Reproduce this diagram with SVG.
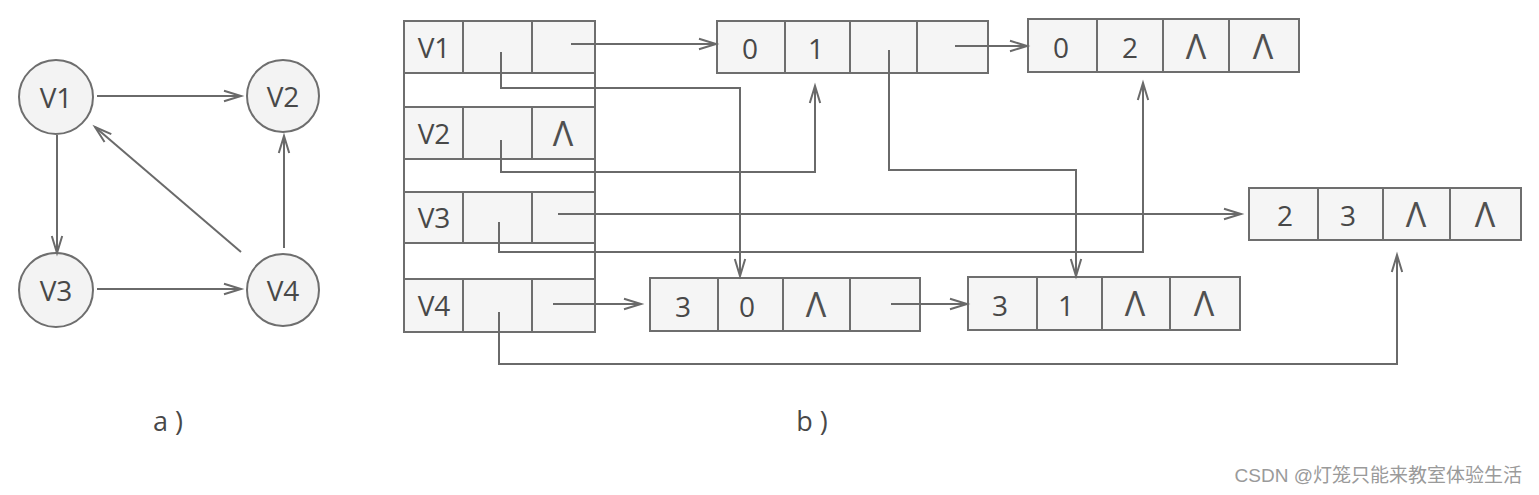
<svg xmlns="http://www.w3.org/2000/svg" width="1539" height="495" viewBox="0 0 1539 495">
<style>
.c{fill:#f3f3f3;stroke:#6e6e6e;stroke-width:2}
.cell{fill:#f5f5f5;stroke:#6e6e6e;stroke-width:2}
.t{font-family:"Open Sans","Noto Sans",sans-serif;font-size:28px;fill:#484848;text-anchor:middle;dominant-baseline:central}
.nil{font-family:"Open Sans","Noto Sans",sans-serif;font-size:34px;font-weight:400;fill:#505050;text-anchor:middle;dominant-baseline:central}
.e{fill:none;stroke:#6a6a6a;stroke-width:2;marker-end:url(#a)}
.lbl{font-family:"Open Sans","Noto Sans",sans-serif;font-size:27px;fill:#484848;text-anchor:middle}
</style>
<defs>
<marker id="a" markerUnits="userSpaceOnUse" markerWidth="20" markerHeight="14" refX="17" refY="7" orient="auto" overflow="visible">
<path d="M0,1.8 L17,7 L0,12.2" fill="none" stroke="#6a6a6a" stroke-width="2"/>
</marker>
</defs>
<rect width="1539" height="495" fill="#fff"/>

<!-- graph a -->
<g id="gV1"><circle class="c" cx="56" cy="97" r="37"/><text class="t" x="56" y="97">V1</text></g>
<g id="gV2"><circle class="c" cx="283" cy="96" r="36"/><text class="t" x="283" y="96">V2</text></g>
<g id="gV3"><circle class="c" cx="56" cy="290" r="37"/><text class="t" x="56" y="290">V3</text></g>
<g id="gV4"><circle class="c" cx="283" cy="290" r="36"/><text class="t" x="283" y="290">V4</text></g>
<g id="graph-edges">
<path class="e" d="M97,96 L241,96"/>
<path class="e" d="M57,135 L57,253"/>
<path class="e" d="M97,289 L241,289"/>
<path class="e" d="M284,248 L284,136"/>
<path class="e" d="M241,252 L95,127"/>
</g>
<text class="lbl" x="168" y="431">a )</text>
<text class="lbl" x="812" y="431">b )</text>

<!-- head table -->
<g id="table">
<rect x="404" y="21" width="191" height="311" fill="#fff" stroke="#6e6e6e" stroke-width="2"/>
<g id="hV1"><rect class="cell" x="404" y="21" width="59" height="52"/><rect class="cell" x="463" y="21" width="69" height="52"/><rect class="cell" x="532" y="21" width="63" height="52"/><text class="t" x="434" y="47">V1</text></g>
<g id="hV2"><rect class="cell" x="404" y="107" width="59" height="52"/><rect class="cell" x="463" y="107" width="69" height="52"/><rect class="cell" x="532" y="107" width="63" height="52"/><text class="t" x="434" y="133">V2</text><text class="nil" x="563" y="133">Λ</text></g>
<g id="hV3"><rect class="cell" x="404" y="192" width="59" height="51"/><rect class="cell" x="463" y="192" width="69" height="51"/><rect class="cell" x="532" y="192" width="63" height="51"/><text class="t" x="434" y="217">V3</text></g>
<g id="hV4"><rect class="cell" x="404" y="279" width="59" height="53"/><rect class="cell" x="463" y="279" width="69" height="53"/><rect class="cell" x="532" y="279" width="63" height="53"/><text class="t" x="434" y="305">V4</text></g>
</g>

<!-- arc nodes -->
<g id="n01">
<rect class="cell" x="717" y="21" width="68" height="52"/><rect class="cell" x="785" y="21" width="65" height="52"/><rect class="cell" x="850" y="21" width="67" height="52"/><rect class="cell" x="917" y="21" width="71" height="52"/>
<text class="t" x="750" y="48">0</text><text class="t" x="816" y="48">1</text>
</g>
<g id="n02">
<rect class="cell" x="1028" y="19" width="69" height="53"/><rect class="cell" x="1097" y="19" width="66" height="53"/><rect class="cell" x="1163" y="19" width="66" height="53"/><rect class="cell" x="1229" y="19" width="70" height="53"/>
<text class="t" x="1061" y="47">0</text><text class="t" x="1130" y="47">2</text><text class="nil" x="1196" y="46">Λ</text><text class="nil" x="1263" y="46">Λ</text>
</g>
<g id="n23">
<rect class="cell" x="1249" y="188" width="69" height="52"/><rect class="cell" x="1318" y="188" width="65" height="52"/><rect class="cell" x="1383" y="188" width="67" height="52"/><rect class="cell" x="1450" y="188" width="71" height="52"/>
<text class="t" x="1285" y="215">2</text><text class="t" x="1348" y="215">3</text><text class="nil" x="1416" y="214">Λ</text><text class="nil" x="1485" y="214">Λ</text>
</g>
<g id="n30">
<rect class="cell" x="650" y="278" width="68" height="53"/><rect class="cell" x="718" y="278" width="65" height="53"/><rect class="cell" x="783" y="278" width="67" height="53"/><rect class="cell" x="850" y="278" width="70" height="53"/>
<text class="t" x="683" y="306">3</text><text class="t" x="747" y="306">0</text><text class="nil" x="816" y="304">Λ</text>
</g>
<g id="n31">
<rect class="cell" x="968" y="277" width="69" height="53"/><rect class="cell" x="1037" y="277" width="65" height="53"/><rect class="cell" x="1102" y="277" width="68" height="53"/><rect class="cell" x="1170" y="277" width="70" height="53"/>
<text class="t" x="1000" y="305">3</text><text class="t" x="1066" y="305">1</text><text class="nil" x="1135" y="303">Λ</text><text class="nil" x="1204" y="303">Λ</text>
</g>

<!-- connectors -->
<g id="connectors">
<path class="e" d="M571,44 L716,44"/>
<path class="e" d="M501,52 L501,88 L740,88 L740,276"/>
<path class="e" d="M501,140 L501,172 L815,172 L815,86"/>
<path class="e" d="M558,214 L1241,214"/>
<path class="e" d="M499,222 L499,252 L1143,252 L1143,83"/>
<path class="e" d="M553,304 L641,304"/>
<path class="e" d="M499,312 L499,364 L1397,364 L1397,255"/>
<path class="e" d="M889,50 L889,170 L1076,170 L1076,276"/>
<path class="e" d="M955,46 L1027,46"/>
<path class="e" d="M891,304 L967,304"/>
</g>

<text x="1522" y="482" text-anchor="end" font-family="'Liberation Sans','Noto Sans CJK SC',sans-serif" font-size="19" fill="#9a9a9a">CSDN @灯笼只能来教室体验生活</text>
</svg>
